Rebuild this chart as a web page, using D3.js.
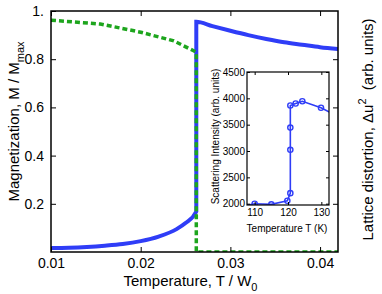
<!DOCTYPE html>
<html>
<head>
<meta charset="utf-8">
<script src="https://cdn.jsdelivr.net/npm/d3@7"></script>
<style>
  body { margin: 0; background: #fff; }
  text { font-family: "Liberation Sans", Arial, sans-serif; fill: #000; }
</style>
</head>
<body>
<script>
// main chart data
var magLowT   = [0.010, 0.012, 0.014, 0.016, 0.018, 0.020, 0.022, 0.024, 0.025, 0.0262];
var magLowM   = [0.017, 0.018, 0.021, 0.026, 0.033, 0.045, 0.064, 0.095, 0.120, 0.168];
var magHighT  = [0.0262, 0.028, 0.030, 0.032, 0.034, 0.036, 0.038, 0.040, 0.042];
var magHighM  = [0.955, 0.937, 0.918, 0.900, 0.884, 0.870, 0.860, 0.850, 0.842];
var latT      = [0.010, 0.0155, 0.020, 0.0237, 0.0259, 0.0262, 0.0262, 0.042];
var latU      = [0.962, 0.946, 0.912, 0.876, 0.835, 0.829, 0.0, 0.0];
var xTicks    = [0.01, 0.02, 0.03, 0.04];
var yTicks    = [0.2, 0.4, 0.6, 0.8, 1];

// inset data
var insetT    = [107, 110, 115, 119.8, 120.7, 120.7, 120.7, 120.7, 122.3, 124.3, 129.9, 133];
var insetI    = [1960, 2000, 1987, 2056, 2200, 3023, 3444, 3864, 3902, 3945, 3821, 3720];
var insetXTicks = [110, 120, 130];
var insetYTicks = [2000, 2500, 3000, 3500, 4000, 4500];

var svgWidth = 382;
var svgHeight = 294;

var margin = { top: 11, right: 44, bottom: 42, left: 51 };
var width = svgWidth - margin.left - margin.right;
var height = svgHeight - margin.top - margin.bottom;

var svg = d3.select("body")
  .append("svg")
  .attr("width", svgWidth)
  .attr("height", svgHeight);

var chartGroup = svg.append("g")
  .attr("transform", `translate(${margin.left}, ${margin.top})`);

var xScale = d3.scaleLinear().domain([0.01, 0.042]).range([0, width]);
var yScale = d3.scaleLinear().domain([0, 1]).range([height, 0]);
// right axis, arbitrary units
var yRight = d3.scaleLinear().domain([0, 1]).range([height, 0]);

chartGroup.append("defs").append("clipPath").attr("id", "mainClip")
  .append("rect").attr("width", width).attr("height", height);

var line = d3.line().x(d => xScale(d[0])).y(d => yScale(d[1]));
var lineR = d3.line().x(d => xScale(d[0])).y(d => yRight(d[1]));

var plot = chartGroup.append("g").attr("clip-path", "url(#mainClip)");

var magLow = magLowT.map((t, i) => [t, magLowM[i]]);
var magHigh = magHighT.map((t, i) => [t, magHighM[i]]);
var magAll = magLow.concat(magHigh);

plot.append("path")
  .datum(magAll)
  .attr("d", line.curve(d3.curveMonotoneX))
  .attr("fill", "none")
  .attr("stroke", "#2f3df7")
  .attr("stroke-width", 4);

// lattice distortion, dotted green
plot.append("path")
  .datum(latT.map((t, i) => [t, latU[i]]))
  .attr("d", lineR)
  .attr("fill", "none")
  .attr("stroke", "#1da51d")
  .attr("stroke-width", 3.5)
  .attr("stroke-dasharray", "5,3");

// axes
var bottomAxis = d3.axisBottom(xScale).tickValues(xTicks).tickSize(-5).tickPadding(6)
  .tickFormat(d3.format(".2f"));
var leftAxis = d3.axisLeft(yScale).tickValues(yTicks).tickSize(-5).tickPadding(7)
  .tickFormat(d => d === 1 ? "1." : d3.format(".1f")(d));
var topAxis = d3.axisTop(xScale).tickValues(xTicks).tickSize(-5).tickFormat("");
var rightAxis = d3.axisRight(yRight).tickValues([0.2, 0.4, 0.6, 0.8]).tickSize(-5).tickFormat("");

function styleAxis(g, fs) {
  g.select(".domain").remove();
  g.selectAll("line").attr("stroke", "#000");
  g.selectAll("text").style("font-size", fs + "px");
}

chartGroup.append("g").attr("transform", `translate(0, ${height})`).call(bottomAxis).call(styleAxis, 14);
chartGroup.append("g").call(leftAxis).call(styleAxis, 14);
chartGroup.append("g").call(topAxis).call(styleAxis, 14);
chartGroup.append("g").attr("transform", `translate(${width}, 0)`).call(rightAxis).call(styleAxis, 14);

chartGroup.append("rect")
  .attr("width", width).attr("height", height)
  .attr("fill", "none").attr("stroke", "#000").attr("stroke-width", 1.5);

// axis labels
var xl = chartGroup.append("text")
  .attr("x", width / 2 - 4)
  .attr("y", height + 34)
  .attr("text-anchor", "middle")
  .style("font-size", "15px");
xl.append("tspan").text("Temperature, T / W");
xl.append("tspan").attr("dy", 5).style("font-size", "11px").text("0");

var yl = chartGroup.append("text")
  .attr("transform", "rotate(-90)")
  .attr("x", -height / 2 + 10)
  .attr("y", -32)
  .attr("text-anchor", "middle")
  .style("font-size", "15px");
yl.append("tspan").text("Magnetization, M / M");
yl.append("tspan").attr("dy", 5).style("font-size", "11px").text("max");

var yr = chartGroup.append("text")
  .attr("transform", "rotate(-90)")
  .attr("x", -height / 2 + 2)
  .attr("y", width + 35)
  .attr("text-anchor", "middle")
  .style("font-size", "15px");
yr.append("tspan").text("Lattice distortion, \u0394u");
yr.append("tspan").attr("dy", -7).style("font-size", "11px").text("2");
yr.append("tspan").attr("dy", 7).text("\u00a0\u00a0(arb. units)");

// inset
var inset = { x: 247, y: 72, w: 82, h: 133 };
var ig = svg.append("g").attr("transform", `translate(${inset.x}, ${inset.y})`);

var ixScale = d3.scaleLinear().domain([107.7, 132.3]).range([0, inset.w]);
var iyScale = d3.scaleLinear().domain([1975, 4500]).range([inset.h, 0]);

ig.append("rect").attr("width", inset.w).attr("height", inset.h).attr("fill", "#fff");

ig.append("defs").append("clipPath").attr("id", "insetClip")
  .append("rect").attr("width", inset.w).attr("height", inset.h);

var ipts = insetT.map((t, i) => [t, insetI[i]]);
var iplot = ig.append("g").attr("clip-path", "url(#insetClip)");

iplot.append("path")
  .datum(ipts)
  .attr("d", d3.line().x(d => ixScale(d[0])).y(d => iyScale(d[1])))
  .attr("fill", "none")
  .attr("stroke", "#2f3df7")
  .attr("stroke-width", 1.6);

iplot.selectAll("circle")
  .data(ipts.slice(1, -1))
  .enter()
  .append("circle")
  .attr("cx", d => ixScale(d[0]))
  .attr("cy", d => iyScale(d[1]))
  .attr("r", 2.6)
  .attr("fill", "none")
  .attr("stroke", "#2f3df7")
  .attr("stroke-width", 1.4);

ig.append("g").attr("transform", `translate(0, ${inset.h})`)
  .call(d3.axisBottom(ixScale).tickValues(insetXTicks).tickSize(-3).tickPadding(4).tickFormat(d3.format("d")))
  .call(styleAxis, 10);
ig.append("g")
  .call(d3.axisLeft(iyScale).tickValues(insetYTicks).tickSize(-3).tickPadding(2).tickFormat(d3.format("d")))
  .call(styleAxis, 10);
ig.append("g")
  .call(d3.axisTop(ixScale).tickValues(insetXTicks).tickSize(-3).tickFormat(""))
  .call(styleAxis, 10);
ig.append("g").attr("transform", `translate(${inset.w}, 0)`)
  .call(d3.axisRight(iyScale).tickValues(insetYTicks).tickSize(-3).tickFormat(""))
  .call(styleAxis, 10);

ig.append("rect").attr("width", inset.w).attr("height", inset.h)
  .attr("fill", "none").attr("stroke", "#000").attr("stroke-width", 1.2);

ig.append("text")
  .attr("x", inset.w / 2 - 1)
  .attr("y", inset.h + 27)
  .attr("text-anchor", "middle")
  .style("font-size", "10px")
  .text("Temperature T (K)");

ig.append("text")
  .attr("transform", "rotate(-90)")
  .attr("x", -inset.h / 2 + 2)
  .attr("y", -28)
  .attr("text-anchor", "middle")
  .style("font-size", "10px")
  .text("Scattering Intensity (arb. units)");
</script>
</body>
</html>
